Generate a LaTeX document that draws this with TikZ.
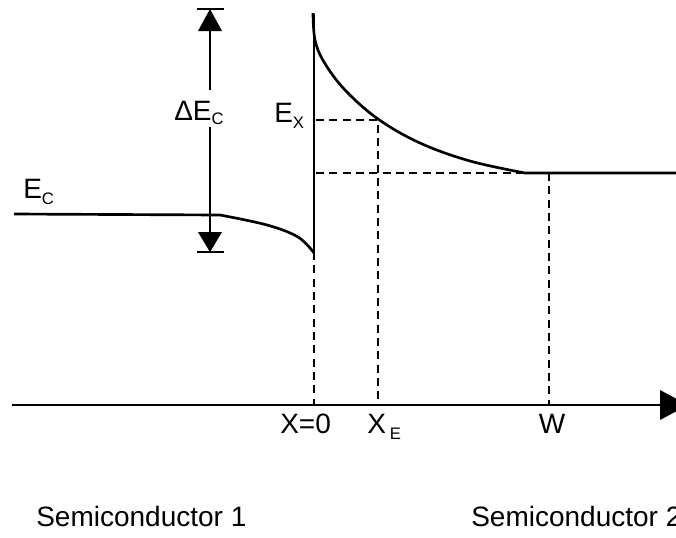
\documentclass[tikz,border=0pt]{standalone}
\usepackage{fontspec}
\setmainfont{Liberation Sans}
\newcommand{\lbl}{\fontsize{21}{24}\selectfont}
\newcommand{\subl}[2]{\lower#1\hbox{\fontsize{12.5}{14}\selectfont #2}}
\begin{document}
\begin{tikzpicture}[x=0.75pt,y=-0.75pt,
  band/.style={line width=2pt},
  guide/.style={line width=1.8pt,dash pattern=on 6pt off 4pt},
  txt/.style={inner sep=0pt,font=\lbl}]
\clip (0,0) rectangle (676,537);
% axis
\coordinate (ax0) at (12,405);
\coordinate (ax1) at (668,405);
\draw[line width=2pt] (ax0) -- (ax1);
\fill (660,390) -- (688,405) -- (660,420) -- cycle;
% interface vertical line
\coordinate (iTop) at (314,14);
\coordinate (iBot) at (314,252);
\draw[band] (iTop) -- (iBot);
% Semiconductor 2 band
\draw[band] plot[smooth,tension=0.6] coordinates {(313,13) (315,40) (324,62) (345,90) (378,119) (420,143) (470,161) (525,173)} -- (676,173);
% Semiconductor 1 band
\draw[band] (14,214) -- (220,215) plot[smooth,tension=0.6] coordinates {(220,215) (267,225) (298,237) (314,253)};
% Delta E_C arrow
\draw[band] (197,9) -- (224,9);
\draw[band] (197,252) -- (224,252);
\fill (210,9) -- (222,31) -- (198,31) -- cycle;
\fill (210,252) -- (222,232) -- (198,232) -- cycle;
\draw[band] (210,28) -- (210,90);
\draw[band] (210,127) -- (210,235);
% dashed guides
\coordinate (ex1) at (316,120);
\coordinate (ex2) at (378,120);
\coordinate (xe) at (378,405);
\draw[guide] (ex1) -- (ex2) -- (xe);
\coordinate (w1) at (316,173);
\coordinate (w2) at (549,173);
\coordinate (w3) at (549,405);
\draw[guide] (w1) -- (525,173);
\draw[guide] (w2) -- (w3);
\draw[guide] (iBot) -- (314,405);
% labels
\node[txt,anchor=base west] (ec) at (23,198) {E\subl{5pt}{C}};
\node[txt,anchor=base west] (dec) at (174,120) {ΔE\subl{3.5pt}{C}};
\node[txt,anchor=base west] (exl) at (274,122) {E\subl{5pt}{X}};
\node[txt,anchor=base west] (x0) at (280,433) {X=0};
\node[txt,anchor=base west] (xel) at (367,433) {X\kern3pt\subl{5pt}{E}};
\node[txt,anchor=base] (wl) at (552,433) {W};
\node[txt,anchor=base west] (s1) at (36,526) {Semiconductor 1};
\node[txt,anchor=base west] (s2) at (471,526) {Semiconductor 2};
\end{tikzpicture}
\end{document}
